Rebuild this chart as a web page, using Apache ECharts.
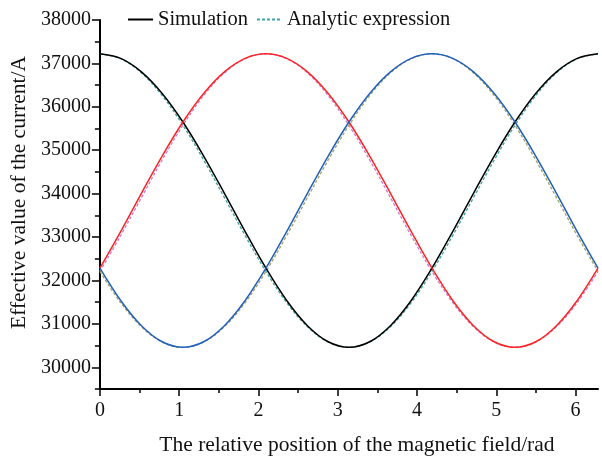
<!DOCTYPE html>
<html>
<head>
<meta charset="utf-8">
<script src="https://cdn.jsdelivr.net/npm/echarts@6/dist/echarts.min.js"></script>
<style>html,body{margin:0;padding:0;background:#fff;}#chart{width:602px;height:461px;}</style>
</head>
<body>
<div id="chart"></div>
<script>
// Data
const xValues = [0, 0.2618, 0.5236, 0.7854, 1.0472, 1.3090, 1.5708, 1.8326, 2.0944, 2.3562, 2.6180, 2.8798, 3.1416,
  3.4034, 3.6652, 3.9270, 4.1888, 4.4506, 4.7124, 4.9742, 5.2360, 5.4978, 5.7596, 6.0214, 6.2832];
const simBlack = [37220, 37115, 36806, 36308, 35650, 34867, 34008, 33126, 32283, 31540, 30959, 30588, 30460,
  30588, 30959, 31540, 32283, 33126, 34008, 34867, 35650, 36308, 36806, 37115, 37220];
const simRed = [32283, 33126, 34008, 34867, 35650, 36308, 36806, 37115, 37220, 37115, 36806, 36308, 35650,
  34867, 34008, 33126, 32283, 31540, 30959, 30588, 30460, 30588, 30959, 31540, 32283];
const simBlue = [32283, 31540, 30959, 30588, 30460, 30588, 30959, 31540, 32283, 33126, 34008, 34867, 35650,
  36308, 36806, 37115, 37220, 37115, 36806, 36308, 35650, 34867, 34008, 33126, 32283];
const anaBlack = [37220, 37108, 36781, 36258, 35575, 34774, 33908, 33033, 32208, 31490, 30934, 30581, 30460,
  30581, 30934, 31490, 32208, 33033, 33908, 34774, 35575, 36258, 36781, 37108, 37220];
const anaRed = [32208, 33033, 33908, 34774, 35575, 36258, 36781, 37108, 37220, 37108, 36781, 36258, 35575,
  34774, 33908, 33033, 32208, 31490, 30934, 30581, 30460, 30581, 30934, 31490, 32208];
const anaBlue = [32208, 31490, 30934, 30581, 30460, 30581, 30934, 31490, 32208, 33033, 33908, 34774, 35575,
  36258, 36781, 37108, 37220, 37108, 36781, 36258, 35575, 34774, 33908, 33033, 32208];
const yTickLabels = [30000, 31000, 32000, 33000, 34000, 35000, 36000, 37000, 38000];
const yMinorTicks = [29500, 30500, 31500, 32500, 33500, 34500, 35500, 36500, 37500];
const xTickLabels = [0, 1, 2, 3, 4, 5, 6];
const xMinorTicks = [0.5, 1.5, 2.5, 3.5, 4.5, 5.5];
const legendNames = ['Simulation', 'Analytic expression'];
const xTitle = 'The relative position of the magnetic field/rad';
const yTitle = 'Effective value of the current/A';

const FONT = 'Liberation Serif';
const pairs = arr => xValues.map((x, i) => [x, arr[i]]);

function line(name, arr, color, dashed, z) {
  return {
    type: 'line', name: name, data: pairs(arr), symbol: 'none', showSymbol: false, smooth: 0.35,
    xAxisIndex: 0, yAxisIndex: 0, z: z,
    lineStyle: { color: color, width: dashed ? 1.3 : 1.5, type: dashed ? [3, 2] : 'solid' },
    itemStyle: { color: color }
  };
}

const chart = echarts.init(document.getElementById('chart'), null, { renderer: 'canvas' });
chart.setOption({
  animation: false,
  backgroundColor: '#fff',
  grid: { left: 98, right: 4, top: 20, bottom: 68, containLabel: false },
  legend: {
    data: legendNames, left: 122, top: 4, itemWidth: 25, itemHeight: 12, itemGap: 8,
    textStyle: { fontFamily: FONT, fontSize: 20.5, color: '#111' },
    itemStyle: { opacity: 0 }
  },
  xAxis: [{
    type: 'value', min: 0, max: 6.2832, position: 'bottom',
    name: xTitle, nameLocation: 'middle', nameGap: 45,
    nameTextStyle: { fontFamily: FONT, fontSize: 21.5, color: '#111', padding: [0, 0, 0, 16] },
    axisLine: { show: true, onZero: false, lineStyle: { color: '#000', width: 2 } },
    axisTick: { show: true, customValues: xTickLabels, length: 7, lineStyle: { color: '#000', width: 1.5 } },
    axisLabel: { customValues: xTickLabels, margin: 12, fontFamily: FONT, fontSize: 20, color: '#111',
      formatter: v => String(v) },
    splitLine: { show: false }
  }, {
    type: 'value', min: 0, max: 6.2832, position: 'bottom',
    axisLine: { show: false, onZero: false },
    axisTick: { show: true, customValues: xMinorTicks, length: 4, lineStyle: { color: '#000', width: 1.5 } },
    axisLabel: { show: false }, splitLine: { show: false }
  }],
  yAxis: [{
    type: 'value', min: 29500, max: 38000, position: 'left',
    name: yTitle, nameLocation: 'middle', nameGap: 63,
    nameTextStyle: { fontFamily: FONT, fontSize: 21.5, color: '#111', padding: [0, 0, 0, 24] },
    axisLine: { show: true, onZero: false, lineStyle: { color: '#000', width: 2 } },
    axisTick: { show: true, customValues: yTickLabels, length: 8, lineStyle: { color: '#000', width: 1.5 } },
    axisLabel: { customValues: yTickLabels, margin: 9, fontFamily: FONT, fontSize: 20, color: '#111',
      formatter: v => String(v) },
    splitLine: { show: false }
  }, {
    type: 'value', min: 29500, max: 38000, position: 'left',
    axisLine: { show: false, onZero: false },
    axisTick: { show: true, customValues: yMinorTicks, length: 5, lineStyle: { color: '#000', width: 1.5 } },
    axisLabel: { show: false }, splitLine: { show: false }
  }],
  series: [
    line('Analytic expression', anaBlack, '#3fa3a3', true, 2),
    line('Analytic red', anaRed, '#c27fd6', true, 2),
    line('Analytic blue', anaBlue, '#a3a35f', true, 2),
    line('Simulation', simBlack, '#000000', false, 3),
    line('Simulation red', simRed, '#ff2424', false, 3),
    line('Simulation blue', simBlue, '#2160bd', false, 3)
  ]
});
</script>
</body>
</html>
